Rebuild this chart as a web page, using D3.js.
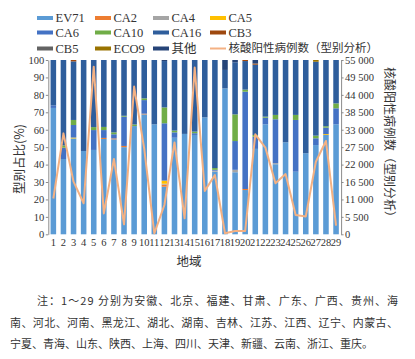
<!DOCTYPE html>
<html><head><meta charset="utf-8">
<script src="https://cdn.jsdelivr.net/npm/d3@7/dist/d3.min.js"></script>
<style>
html,body{margin:0;padding:0;background:#fff;}
svg{display:block;}
text{fill:#333;}
</style></head>
<body>
<svg id="chart" width="415" height="359"></svg>
<script>
const regions = d3.range(1, 30).map(String);
const seriesNames = ["EV71","CA2","CA4","CA5","CA6","CA10","CA16","CB3","CB5","ECO9","其他"];
const seriesColors = ["#5B9BD5","#ED7D31","#A5A5A5","#FFC000","#4472C4","#70AD47","#2F5E9C","#9E480E","#636363","#997300","#264478"];
// percentages per region (1..29)
const EV71 = [72.5,43.2,55.0,47.8,48.4,54.7,54.5,50.0,62.1,68.8,63.1,27.3,55.4,57.6,57.0,67.1,35.9,83.7,35.6,25.4,49.0,63.1,40.2,52.8,35.9,46.5,51.2,57.0,63.1];
const CA2  = [0,0,0,0,0,0.6,0.5,0.7,0,0.4,0,1.2,0,0,0,0,0,0,0,0.6,0,0,0,0,0,0,0,0,0];
const CA4  = [0,0,0,0,0,0,0,0,0,0,0,0.5,0,0,0,0,0.6,0,1.4,0,0,0,0.6,0,0,0,0,0,0];
const CA5  = [0,0,0.5,0,0,0,0,0,0,0,0,1.8,0,0,0,0,0,0,0,0,0,0,0,0,0,0,0,0.5,0];
const CA6  = [1.5,6.5,7.2,0,11.4,4.5,2.4,16.8,0,7.8,0,32.9,3.1,0,1.0,0,0.5,0,16.5,55.8,7.0,3.8,25.2,0,29.7,0,3.9,3.7,9.2];
const CA10 = [0,1.3,2.9,0,1.7,1.8,1.1,0.5,0.9,1.0,0,9.1,1.0,0,0.9,0,1.0,0,15.3,1.2,1.0,0.6,2.5,0,2.9,0,1.5,0.8,2.8];
const CA16 = [26.0,49.0,33.6,52.2,38.5,38.4,41.5,32.0,37.0,22.0,36.9,26.6,40.5,42.4,41.1,32.9,62.0,10.6,29.9,16.4,40.3,32.5,31.5,47.2,31.5,53.5,42.4,38.0,24.9];
const CB3  = [0,0,0.8,0,0,0,0,0,0,0,0,0,0,0,0,0,0,0,0,0.6,0.7,0,0,0,0,0,0,0,0];
const CB5  = [0,0,0,0,0,0,0,0,0,0,0,0,0,0,0,0,0,0,0,0,0,0,0,0,0,0,0,0,0];
const ECO9 = [0,0,0,0,0,0,0,0,0,0,0,0,0,0,0,0,0,0,0,0,0,0,0,0,0,0,1.0,0,0];
const OTHER= [0,0,0,0,0,0,0,0,0,0,0,0.6,0,0,0,0,0,5.7,1.3,0,2.0,0,0,0,0,0,0,0,0];
const cases = [11300,31850,16600,9800,52900,6600,23760,3150,46600,27000,300,9250,29000,5050,52600,13700,18700,330,1050,1050,31550,27350,16100,19000,6100,5600,22900,29450,2750];
const leftTicks = [0,10,20,30,40,50,60,70,80,90,100];
const rightTicks = [0,5500,11000,16500,22000,27500,33000,38500,44000,49500,55000];
const lineLabel = "核酸阳性病例数（型别分析）";
const noteLines = [
  "注：1～29 分别为安徽、北京、福建、甘肃、广东、广西、贵州、海",
  "南、河北、河南、黑龙江、湖北、湖南、吉林、江苏、江西、辽宁、内蒙古、",
  "宁夏、青海、山东、陕西、上海、四川、天津、新疆、云南、浙江、重庆。"
];

const seriesValues = [EV71,CA2,CA4,CA5,CA6,CA10,CA16,CB3,CB5,ECO9,OTHER];
const table = regions.map((r,i)=>{
  const o = {region:r};
  seriesNames.forEach((s,k)=>o[s]=seriesValues[k][i]);
  return o;
});

const FONT = "'Liberation Serif','Noto Sans CJK SC',serif";
const CJK = "'Noto Sans CJK SC',sans-serif";
const svg = d3.select("#chart");

const x = d3.scaleBand().domain(regions).range([48.3, 341.1]).paddingInner(0.45).paddingOuter(0.225);
const y = d3.scaleLinear().domain([0,100]).range([234.3, 60]);
const y2 = d3.scaleLinear().domain([0,55000]).range([234.3, 60]);
const color = d3.scaleOrdinal().domain(seriesNames).range(seriesColors);

const stack = d3.stack().keys(seriesNames)(table);

svg.append("g").selectAll("g").data(stack).join("g")
  .attr("fill", d=>color(d.key))
  .selectAll("rect").data(d=>d).join("rect")
  .attr("x", d=>x(d.data.region))
  .attr("width", x.bandwidth())
  .attr("y", d=>y(d[1]))
  .attr("height", d=>Math.max(0, y(d[0])-y(d[1])));

// line
svg.append("path")
  .datum(cases)
  .attr("fill","none")
  .attr("stroke","#F4B183")
  .attr("stroke-width",2)
  .attr("stroke-linejoin","round")
  .attr("d", d3.line().x((d,i)=>x(regions[i])+x.bandwidth()/2).y(d=>y2(d)));

// axes
const gl = svg.append("g").attr("transform","translate(48.3,0)")
  .call(d3.axisLeft(y).tickValues(leftTicks).tickSize(2.5).tickSizeOuter(0).tickPadding(1.5));
const gr = svg.append("g").attr("transform","translate(341.1,0)")
  .call(d3.axisRight(y2).tickValues(rightTicks).tickSize(2.5).tickSizeOuter(0).tickPadding(1.5)
    .tickFormat(d=>d3.format(",")(d).replace(/,/g," ")));
const gb = svg.append("g").attr("transform","translate(0,234.3)")
  .call(d3.axisBottom(x).tickSize(0).tickPadding(4));
gb.select(".domain").remove();
[gl,gr,gb].forEach(g=>{
  g.selectAll("text").attr("font-family",FONT).attr("font-size",10.5).attr("fill","#333");
  g.selectAll("line").attr("stroke","#8c8c8c");
  g.selectAll(".domain").attr("stroke","#8c8c8c");
});

// titles
svg.append("text").attr("transform","translate(24,159) rotate(-90)")
  .attr("text-anchor","middle").attr("font-family",CJK).attr("font-size",12.5)
  .text("型别占比(%)");
svg.append("text").attr("transform","translate(385,145) rotate(90)")
  .attr("text-anchor","middle").attr("font-family",CJK).attr("font-size",12)
  .text(lineLabel);
svg.append("text").attr("x",189).attr("y",266)
  .attr("text-anchor","middle").attr("font-family",CJK).attr("font-size",12.5)
  .text("地域");

// legend
const legendItems = seriesNames.concat([lineLabel]);
const colX = [37, 95, 153, 210];
const rowY = [18, 32.5, 48.5];
const lg = svg.append("g");
legendItems.forEach((name,i)=>{
  const c = i%4, r = Math.floor(i/4);
  const gx = colX[c], gy = rowY[r];
  const isLine = i === legendItems.length-1;
  if (isLine) {
    lg.append("line").attr("x1",gx).attr("x2",gx+16).attr("y1",gy).attr("y2",gy)
      .attr("stroke","#F4B183").attr("stroke-width",2);
  } else {
    lg.append("rect").attr("x",gx).attr("y",gy-2).attr("width",16).attr("height",4)
      .attr("fill",color(name));
  }
  lg.append("text").attr("x",gx+18.5).attr("y",gy).attr("dy", isLine ? "0.3em" : "0.35em")
    .attr("font-family", isLine ? CJK : FONT).attr("font-size", isLine ? 11.5 : 12.5)
    .text(name);
});

// note
const noteX = [[37,398],[10,398],[10,null]];
const noteY = [301,323,344];
noteLines.forEach((t,i)=>{
  const el = svg.append("text").attr("x",noteX[i][0]).attr("y",noteY[i]).attr("dy","0.35em")
    .attr("font-family",CJK).attr("font-size",11).attr("fill","#222").text(t);
  if (noteX[i][1]) el.attr("textLength", noteX[i][1]-noteX[i][0]).attr("lengthAdjust","spacing");
});
</script>
</body></html>
